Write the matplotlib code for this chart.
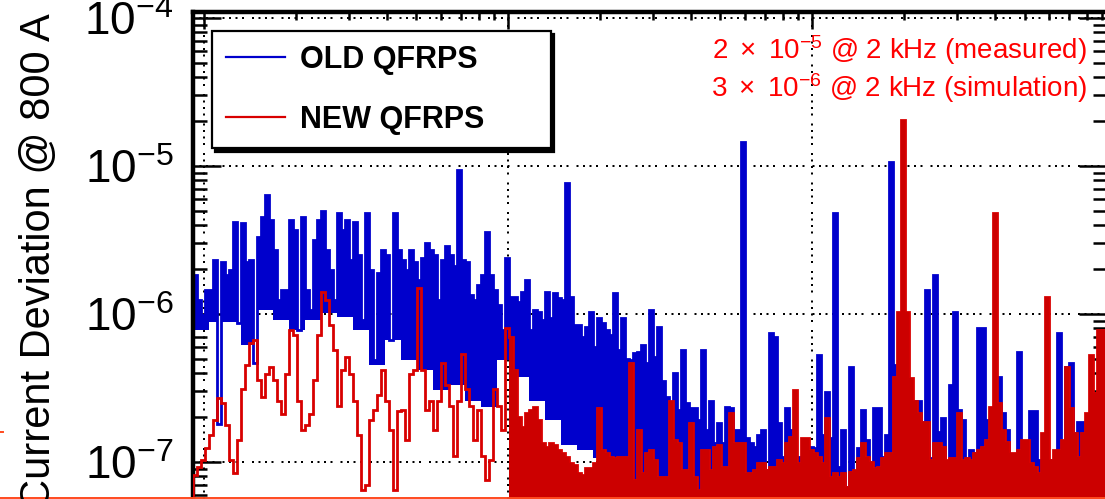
import numpy as np
import matplotlib
matplotlib.use("Agg")
import matplotlib.pyplot as plt
from matplotlib.lines import Line2D
from matplotlib.ticker import LogLocator, NullFormatter

plt.rcParams['font.family'] = ['Liberation Sans', 'DejaVu Sans']
plt.rcParams['mathtext.fontset'] = 'custom'
plt.rcParams['mathtext.rm'] = 'Liberation Sans'
plt.rcParams['mathtext.it'] = 'Liberation Sans:italic'
plt.rcParams['mathtext.bf'] = 'Liberation Sans:bold'
plt.rcParams['lines.scale_dashes'] = False

# ---------------- data ----------------
F_MIN, F_MAX = 9.2, 9200.0      # histogram range in Hz (log-spaced bins)
F_SPLIT = 100.0                 # above this the spectra are drawn filled
UNIT = 1e-7                     # values below are in units of 1e-7

old_qfrps = [
    18.3, 12.4, 9.8, 14.5, 14.5, 23, 1.8, 22.5, 18.3, 19.8,
    42, 8.7, 41, 22.5, 23, 4.7, 33, 45, 64, 43,
    27, 12.4, 14.5, 14.5, 43, 37, 7.8, 45, 14.5, 10.6,
    31.6, 43, 50, 27, 19.8, 12.4, 48, 37, 43, 23,
    42, 25, 9.1, 48, 19.8, 4.9, 18.9, 27, 25, 6.7,
    48, 27, 23, 19.8, 27, 22.5, 17, 24, 30, 27,
    25, 12.4, 23, 29, 25, 21, 94, 23, 22.5, 13.4,
    12.4, 15.7, 18.3, 36, 18.3, 14.5, 11.5, 7.8, 24,
    13, 13, 12.1, 14.1, 17, 7.8, 10.6, 10.3, 9.1, 14.1,
    9.4, 13.9, 12.8, 12.4, 77, 13, 8.4, 8.4, 7.0, 8.2,
    10.3, 6.0, 9.4, 8.7, 7.8, 7.2, 13.9, 5.7, 9.4, 5.0,
    4.9, 5.45, 5.5, 6.2, 4.7, 10.6, 5.1, 8.2, 3.5, 2.75,
    2.54, 4.0, 2.25, 5.7, 2.5, 2.3, 2.3, 1.92, 5.7, 1.65,
    2.6, 1.34, 1.83, 1.34, 2.35, 2.3, 1.65, 1.65, 145, 1.45,
    1.34, 1.26, 1.52, 1.65, 0.88, 7.4, 7.0, 1.83, 1.08, 2.3,
    1.65, 1.08, 1.08, 0.98, 0.79, 1.26, 1.24, 5.3, 1.52, 2.97,
    1.45, 48, 0.93, 1.65, 0.68, 4.4, 0.65, 1.24, 2.25, 1.41,
    0.82, 2.3, 2.3, 1.08, 1.52, 106, 4.5, 2.6, 2.6, 2.6,
    1.65, 2.6, 2.6, 1.86, 14.5, 1.06, 18.3, 1.6, 1.98, 0.93,
    3.3, 10.3, 2.25, 1.92, 1.06, 1.21, 1.15, 8.0, 8.0, 1.92,
    1.41, 2.35, 3.75, 2.14, 1.65, 0.93, 0.76, 5.5, 1.21, 1.21,
    2.2, 2.2, 1.03, 1.03, 1.03, 1.03, 1.03, 7.4, 1.03, 4.4,
    4.7, 1.57, 1.86, 1.86, 1.41, 1.41, 1.41, 1.41, 1.41,
]

# lower envelope of the dense OLD spectrum, on bins 4x coarser (first part only)
old_floor = [7.8, 8.8, 8.8, 6.2, 10.6, 9.1, 7.8, 9.1, 10.2, 9.5,
             7.8, 4.5, 6.7, 4.9, 4.2, 3.07, 3.3, 2.6, 2.35, 4.9,
             3.75, 2.6, 1.92, 1.3, 1.21, 1.06]
FLOOR_GROUP = 4

new_qfrps = [
    0.82, 0.93, 1.03, 1.24, 1.52, 1.92, 2.7, 2.5, 1.78, 1.03,
    0.84, 1.41, 3.1, 4.5, 6.4, 6.7, 3.6, 2.75, 3.9, 4.4,
    3.6, 2.6, 2.1, 3.9, 7.8, 7.2, 2.6, 1.65, 1.78, 2.1,
    3.6, 7.2, 14, 12.4, 8.4, 5.7, 2.4, 4.2, 5.1, 3.9,
    2.6, 1.52, 0.65, 0.7, 1.92, 2.25, 2.85, 4.2, 2.6, 1.65,
    0.65, 2.2, 2.25, 1.41, 3.9, 4.2, 15, 4.2, 2.25, 2.6,
    1.65, 2.6, 4.7, 3.3, 2.4, 1.1, 2.6, 5.4, 3.1, 2.4,
    1.41, 2.25, 1.1, 0.76, 1.03, 3.1, 2.4, 1.65, 8.0,
    7.0, 4.2, 2.0, 1.72, 2.14, 2.25, 2.35, 1.92, 1.34, 1.26,
    1.34, 1.3, 1.21, 1.15, 1.08, 0.98, 0.95, 0.84, 0.82, 0.91,
    0.91, 0.98, 2.3, 1.21, 1.15, 1.08, 1.06, 1.08, 1.08, 1.08,
    4.7, 0.76, 1.65, 0.84, 1.15, 1.21, 1.03, 0.79, 0.79, 0.79,
    2.6, 1.41, 1.34, 0.88, 0.88, 1.83, 0.79, 0.65, 1.21, 1.21,
    0.88, 1.26, 1.3, 0.93, 0.93, 2.14, 1.34, 1.34, 1.34, 0.84,
    0.84, 0.88, 0.98, 0.98, 0.88, 0.93, 0.93, 1.03, 0.98, 1.34,
    1.48, 3.07, 0.98, 1.45, 1.45, 1.21, 1.15, 1.08, 0.98, 1.98,
    0.79, 0.84, 0.79, 0.84, 0.68, 0.86, 0.88, 1.06, 1.34, 1.08,
    1.0, 0.91, 0.93, 1.06, 1.15, 1.15, 3.75, 10.3, 205, 10.3,
    3.7, 2.6, 2.14, 1.86, 1.86, 1.03, 1.34, 1.34, 1.26, 1.03,
    1.06, 1.06, 2.14, 1.03, 1.06, 1.03, 1.15, 1.21, 1.26, 1.41,
    2.35, 48, 2.5, 1.65, 1.36, 1.15, 1.15, 1.21, 1.41, 1.41,
    0.98, 0.93, 0.84, 1.57, 13, 1.03, 1.21, 1.21, 1.41, 4.4,
    2.3, 1.57, 1.08, 1.57, 2.14, 5.3, 2.94, 7.8, 7.8,
]

series_labels = ["OLD QFRPS", "NEW QFRPS"]
y_ticks = [1e-7, 1e-6, 1e-5, 1e-4]
y_tick_labels = [r"$10^{-7}$", r"$10^{-6}$", r"$10^{-5}$", r"$10^{-4}$"]
x_major = [10, 100, 1000]
y_label = "Current Deviation @ 800 A"
note_lines = [r"$2\ \times\ 10^{-5}$ @ 2 kHz (measured)",
              r"$3\ \times\ 10^{-6}$ @ 2 kHz (simulation)"]

# ---------------- styles ----------------
BLUE = '#0000cc'
RED_LINE = '#d80000'
RED_FILL = '#cc0000'
W, H = 1105, 499
X_LIM = (9.2, 9340.0)
Y_LIM = (5.62e-8, 1.098e-4)

old = np.array(old_qfrps) * UNIT
new = np.array(new_qfrps) * UNIT
edges = np.geomspace(F_MIN, F_MAX, len(old) + 1)
k = int(np.argmax(edges[:-1] >= F_SPLIT))
n_fl = len(old_floor) * FLOOR_GROUP
floor = np.minimum(np.repeat(np.array(old_floor) * UNIT, FLOOR_GROUP), old[:n_fl])

fig = plt.figure(figsize=(W / 100, H / 100), dpi=100)
ax = fig.add_axes([193 / W, 0, 914 / W, 487 / H])
ax.set_xscale('log')
ax.set_yscale('log')
ax.set_xlim(*X_LIM)
ax.set_ylim(*Y_LIM)

# grid (dotted, ROOT-like), below data
dots = (0, (1.44, 3.24, 1.44, 3.24, 1.44, 3.24, 1.44, 5.76))
for yv in y_ticks:
    ax.axhline(yv, color='black', lw=1.44, ls=dots, dash_capstyle='butt', zorder=0.5)
for xv in x_major:
    ax.axvline(xv, color='black', lw=1.44, ls=dots, dash_capstyle='butt', zorder=0.5)

base = Y_LIM[0] * 0.01
h_old = ax.stairs(old, edges, color=BLUE, lw=2.0, zorder=2)
ax.stairs(old[:n_fl], edges[:n_fl + 1], baseline=floor, fill=True, color=BLUE, lw=0, zorder=2)
ax.stairs(old[n_fl:], edges[n_fl:], fill=True, baseline=base, color=BLUE, lw=0, zorder=2)
h_new = ax.stairs(new, edges, color=RED_LINE, lw=2.0, zorder=3)
ax.stairs(new[k:], edges[k:], fill=True, baseline=base, color=RED_FILL, lw=0, zorder=3)

# axes styling
for s in ['left', 'top', 'right']:
    ax.spines[s].set_linewidth(3.2)
ax.spines['bottom'].set_visible(False)

ax.set_yticks(y_ticks)
ax.set_yticklabels(y_tick_labels, fontsize=33)
ax.yaxis.set_minor_locator(LogLocator(base=10, subs=np.arange(2, 10)))
ax.yaxis.set_minor_formatter(NullFormatter())
ax.xaxis.set_major_locator(LogLocator(base=10))
ax.xaxis.set_minor_locator(LogLocator(base=10, subs=np.arange(2, 10)))
ax.xaxis.set_major_formatter(NullFormatter())
ax.xaxis.set_minor_formatter(NullFormatter())

ax.tick_params(axis='y', which='both', direction='in', left=True, right=True,
               width=1.8, pad=14)
ax.tick_params(axis='y', which='major', length=20)
ax.tick_params(axis='y', which='minor', length=10)
ax.tick_params(axis='x', which='both', direction='in', top=True, bottom=False,
               labelbottom=False, labeltop=False, width=1.8)
ax.tick_params(axis='x', which='major', length=12)
ax.tick_params(axis='x', which='minor', length=6)

# legend
leg = ax.legend([h_old, h_new], series_labels, loc='upper left',
                bbox_to_anchor=(19 / 914, 0, 339 / 914, (499 - 31) / 487),
                mode='expand', prop={'family': 'Liberation Sans', 'weight': 'bold', 'size': 22},
                handlelength=1.93, handletextpad=0.49, borderpad=0.45, labelspacing=0.98,
                fancybox=False, framealpha=1, edgecolor='black', borderaxespad=0,
                shadow={'ox': 2.5, 'oy': -2.5, 'facecolor': 'black', 'edgecolor': 'black', 'alpha': 1})
leg.get_frame().set_linewidth(1.6)
leg.set_zorder(5)
for ln in leg.get_lines():
    ln.set_linewidth(1.6)

# notes
ax.text((1087 - 193) / 914, (499 - 59) / 487, note_lines[0], transform=ax.transAxes,
        ha='right', va='baseline', fontsize=20, color='#ff0000', zorder=6)
ax.text((1087 - 193) / 914, (499 - 97) / 487, note_lines[1], transform=ax.transAxes,
        ha='right', va='baseline', fontsize=20, color='#ff0000', zorder=6)

# y label
fig.text(39.5 / W, 1 - 13 / H, y_label, rotation=90, ha='center', va='top', fontsize=30)

# border line of the cropped page
fig.add_artist(Line2D([0, 1], [1.2 / H, 1.2 / H], transform=fig.transFigure,
                      color='#ff4a1e', lw=1.4))
fig.add_artist(Line2D([0, 3 / W], [1 - 432 / H, 1 - 432 / H], transform=fig.transFigure,
                      color='#ff4a1e', lw=1.4))

fig.savefig('out.png', dpi=100)
